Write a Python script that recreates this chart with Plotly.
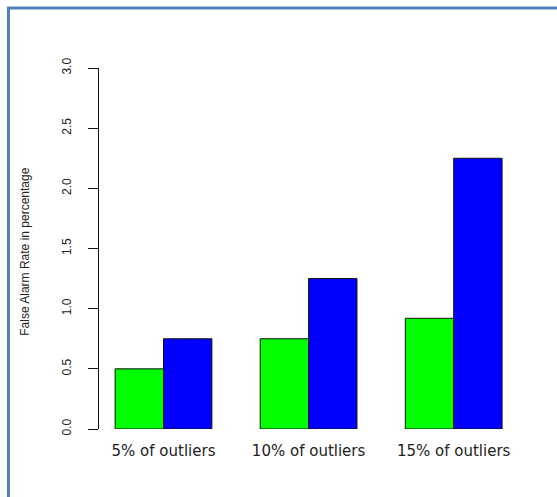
import plotly.graph_objects as go

categories = ["5% of outliers", "10% of outliers", "15% of outliers"]
series_a = [0.50, 0.75, 0.92]
series_b = [0.75, 1.25, 2.25]
y_ticks = [0.0, 0.5, 1.0, 1.5, 2.0, 2.5, 3.0]
y_tick_text = ["0.0", "0.5", "1.0", "1.5", "2.0", "2.5", "3.0"]
y_title = "False Alarm Rate in percentage"

x_pos = list(range(len(categories)))

fig = go.Figure()
fig.add_trace(go.Bar(x=x_pos, y=series_a, marker=dict(color="#00FF00", line=dict(color="#111111", width=1)),
                     showlegend=False, hoverinfo="y"))
fig.add_trace(go.Bar(x=x_pos, y=series_b, marker=dict(color="#0000FF", line=dict(color="#111111", width=1)),
                     showlegend=False, hoverinfo="y"))

fig.update_layout(
    width=557, height=497,
    margin=dict(l=99, r=37, t=68, b=68),
    paper_bgcolor="white", plot_bgcolor="white",
    barmode="group", bargap=0.333, bargroupgap=0,
    font=dict(family="Liberation Sans, Arial, sans-serif", color="#222222"),
    xaxis=dict(
        range=[-0.4445, 2.457], tickmode="array", tickvals=x_pos, ticktext=categories,
        showline=False, showgrid=False, zeroline=False, ticks="",
        tickfont=dict(family="DejaVu Sans, sans-serif", size=15, color="#222222"),
        ticklabelstandoff=11, fixedrange=True,
    ),
    yaxis=dict(
        range=[0, 3], tickmode="array", tickvals=y_ticks, ticktext=y_tick_text,
        showline=True, linecolor="#111111", linewidth=1, showgrid=False, zeroline=False,
        ticks="outside", ticklen=10, tickcolor="#111111", tickwidth=1,
        tickangle=-90, tickfont=dict(size=12, color="#222222"),
        ticklabelstandoff=12, fixedrange=True,
    ),
    shapes=[
        dict(type="path", xref="paper", yref="paper",
             path="M -0.215,-0.25 L -0.215,1.1662 L 1.12,1.1662",
             line=dict(color="#4F81BD", width=3)),
    ],
    annotations=[
        dict(text=y_title, xref="paper", yref="paper", x=-0.1758, y=0.491,
             textangle=-90, showarrow=False, font=dict(size=12, color="#222222"),
             xanchor="center", yanchor="middle"),
    ],
)

fig.write_html("out.html")
